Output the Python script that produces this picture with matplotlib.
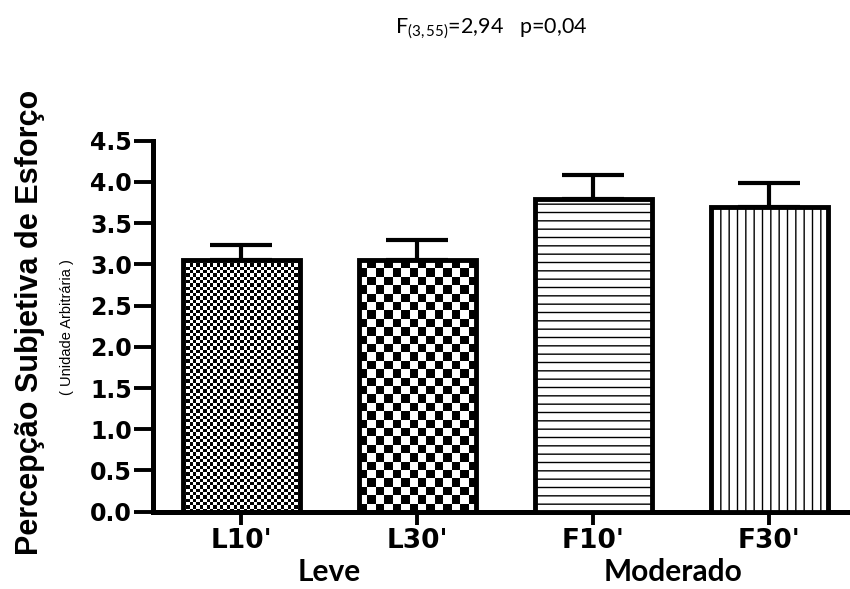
import numpy as np
import matplotlib
matplotlib.use("Agg")
import matplotlib.pyplot as plt

# ---------------- data ----------------
categories = ["L10'", "L30'", "F10'", "F30'"]
means = [3.05, 3.05, 3.79, 3.70]
sem = [0.19, 0.24, 0.29, 0.29]
yticks = [0.0, 0.5, 1.0, 1.5, 2.0, 2.5, 3.0, 3.5, 4.0, 4.5]
ytick_labels = ["0.0", "0.5", "1.0", "1.5", "2.0", "2.5", "3.0", "3.5", "4.0", "4.5"]
groups = ["Leve", "Moderado"]
ylabel = "Percepção Subjetiva de Esforço"
ysublabel = "( Unidade Arbitrária )"
title = r"F$_{(3,55)}$=2,94   p=0,04"

plt.rcParams["mathtext.fontset"] = "custom"
plt.rcParams["mathtext.rm"] = "Lato"
plt.rcParams["mathtext.it"] = "Lato:italic"
plt.rcParams["hatch.linewidth"] = 1.0

W, H = 850, 589
fig = plt.figure(figsize=(W / 100, H / 100), dpi=100)
ax_left, ax_bottom, ax_top = 152.7, 511.7, 140.7
ax = fig.add_axes([ax_left / W, 1 - ax_bottom / H, 1 - ax_left / W, (ax_bottom - ax_top) / H])

x = np.arange(len(categories))
xlim = (-0.502, 3.46)
ylim = (0, 4.5)
ax.set_xlim(*xlim)
ax.set_ylim(*ylim)

bars = ax.bar(x, means, width=0.665, facecolor="white", edgecolor="black",
              linewidth=3.5, zorder=3)
ax.errorbar(x, means, yerr=[np.zeros(len(sem)), sem], fmt="none", ecolor="black",
            elinewidth=3.0, capsize=22, capthick=3.0, zorder=2.5)

# patterns
bars[2].set_hatch("--")
bars[3].set_hatch("||")


def checker(bar, cell_px):
    bar.set_facecolor("none")
    x0, y0 = bar.get_x(), bar.get_y()
    w, h = bar.get_width(), bar.get_height()
    (px0, py0), (px1, py1) = ax.transData.transform([(x0, y0), (x0 + w, y0 + h)])
    nx = max(2, int(round((px1 - px0) / cell_px)))
    ny = max(2, int(round((py1 - py0) / cell_px)))
    arr = np.add.outer(np.arange(ny), np.arange(nx)) % 2
    im = ax.imshow(arr, cmap="gray", vmin=0, vmax=1, extent=(x0, x0 + w, y0, y0 + h),
                   aspect="auto", interpolation="nearest", origin="lower", zorder=2)
    im.set_clip_path(bar)


checker(bars[0], 3.3)
checker(bars[1], 8.4)
ax.set_xlim(*xlim)
ax.set_ylim(*ylim)

# axes styling
for s in ["top", "right"]:
    ax.spines[s].set_visible(False)
for s in ["left", "bottom"]:
    ax.spines[s].set_linewidth(3.6)
ax.set_yticks(yticks)
ax.set_yticklabels(ytick_labels, fontfamily="DejaVu Sans", fontweight="bold", fontsize=17)
ax.set_xticks(x)
ax.set_xticklabels(categories, fontfamily="DejaVu Sans", fontweight="bold", fontsize=19)
ax.tick_params(axis="y", length=14, width=2.8, pad=1, direction="out")
ax.tick_params(axis="x", length=9.4, width=2.8, pad=2, direction="out")
ax.set_facecolor("white")

# labels
fig.text(30 / W, 1 - 322 / H, ylabel, rotation=90, ha="center", va="center",
         fontfamily="Liberation Sans", fontweight="bold", fontsize=22)
fig.text(67 / W, 1 - 327 / H, ysublabel, rotation=90, ha="center", va="center",
         fontfamily="Liberation Sans", fontsize=10.5)
fig.text(491 / W, 1 - 33 / H, title, ha="center", va="baseline",
         fontfamily="Lato", fontsize=15.5)

group_centers = [329.5, 673]
for g, cx in zip(groups, group_centers):
    fig.text(cx / W, 1 - 581 / H, g, ha="center", va="baseline",
             fontfamily="Lato", fontweight="bold", fontsize=21.5)

fig.savefig("out.png", dpi=100, facecolor="white")
